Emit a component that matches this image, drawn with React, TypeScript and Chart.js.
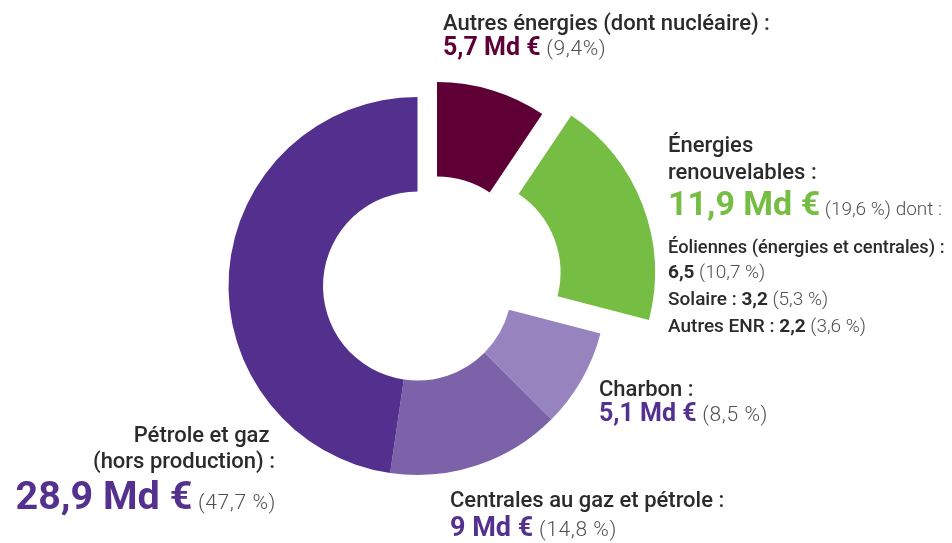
import React, { useEffect, useRef } from 'react';
import { Chart, registerables } from 'chart.js';

Chart.register(...registerables);

// ---- data ----
const categories = [
  'Autres énergies (dont nucléaire)',
  'Énergies renouvelables',
  'Charbon',
  'Centrales au gaz et pétrole',
  'Pétrole et gaz (hors production)',
];
const amounts = [5.7, 11.9, 5.1, 9, 28.9]; // Md €
const shares = [9.4, 19.6, 8.5, 14.8, 47.7]; // %
const renewableParts = ['Éoliennes (énergies et centrales)', 'Solaire', 'Autres ENR'];
const renewableAmounts = [6.5, 3.2, 2.2];
const renewableShares = [10.7, 5.3, 3.6];

// ---- style ----
const sliceColors = ['#5e0035', '#76bd43', '#9784be', '#7b62a9', '#53308e'];
const explode: ([number, number] | null)[] = [[19.5, -15], [48.5, -13.6], null, null, null];
const FONT = 'Roboto, "Noto Sans", sans-serif';
const DARK = '#2b2b2b';
const GREY = '#505050';
const PURPLE = '#55318f';

const fr = (n: number) => String(n).replace('.', ',');
const pct = (n: number, sep = ' ') => ` (${fr(n)}${sep}%)`;

const explodePlugin = {
  id: 'explodeSlices',
  afterUpdate(chart: any) {
    const meta = chart.getDatasetMeta(0);
    meta.data.forEach((arc: any, i: number) => {
      const s = explode[i];
      if (s) {
        arc.x += s[0];
        arc.y += s[1];
      }
    });
  },
};

const T = (p: any) => (
  <text
    x={p.x}
    y={p.y}
    textAnchor={p.anchor || 'start'}
    fontFamily={FONT}
    style={{ whiteSpace: 'pre' }}
  >
    {p.children}
  </text>
);

const S = (p: any) => (
  <tspan
    fontSize={p.size}
    fontWeight={p.weight}
    fill={p.color}
    style={p.ls ? { letterSpacing: p.ls + 'px' } : undefined}
  >
    {p.children}
  </tspan>
);

export default function App() {
  const ref = useRef<HTMLCanvasElement>(null);

  useEffect(() => {
    if (!ref.current) return;
    const chart = new Chart(ref.current, {
      type: 'doughnut',
      data: {
        labels: categories,
        datasets: [
          {
            data: amounts,
            backgroundColor: sliceColors,
            borderWidth: 0,
          },
        ],
      },
      options: {
        responsive: false,
        animation: false,
        radius: 189,
        cutout: '50%',
        layout: { padding: { left: 0, right: 117, top: 29, bottom: 0 } },
        plugins: { legend: { display: false }, tooltip: { enabled: false } },
        events: [],
      },
      plugins: [explodePlugin],
    });
    return () => chart.destroy();
  }, []);

  return (
    <div style={{ position: 'fixed', left: 0, top: 0, width: 952, height: 543, background: '#fff' }}>
      <canvas ref={ref} width={952} height={543} style={{ position: 'absolute', left: 0, top: 0 }} />
      <svg width={952} height={543} style={{ position: 'absolute', left: 0, top: 0 }}>
        {/* Autres énergies */}
        <T x={443} y={30}>
          <S size={22} weight={500} color={DARK}>{categories[0] + ' :'}</S>
        </T>
        <T x={443} y={55}>
          <S size={25} weight={700} color={sliceColors[0]}>{fr(amounts[0]) + ' Md €'}</S>
          <S size={21} weight={300} color={GREY} ls={0.6}>{pct(shares[0], '')}</S>
        </T>

        {/* Énergies renouvelables */}
        <T x={668} y={152}>
          <S size={22} weight={500} color={DARK}>Énergies</S>
        </T>
        <T x={668} y={179}>
          <S size={22} weight={500} color={DARK}>renouvelables :</S>
        </T>
        <T x={668} y={215}>
          <S size={34} weight={700} color={sliceColors[1]}>{fr(amounts[1]) + ' Md €'}</S>
          <S size={19} weight={300} color={GREY}>{pct(shares[1]) + ' dont :'}</S>
        </T>
        <T x={668} y={253}>
          <S size={18.3} weight={500} color={DARK}>{renewableParts[0] + ' :'}</S>
        </T>
        <T x={668} y={278}>
          <S size={19} weight={700} color={DARK}>{fr(renewableAmounts[0])}</S>
          <S size={19} weight={300} color={GREY}>{pct(renewableShares[0])}</S>
        </T>
        <T x={668} y={305}>
          <S size={19} weight={500} color={DARK}>{renewableParts[1] + ' : '}</S>
          <S size={19} weight={700} color={DARK}>{fr(renewableAmounts[1])}</S>
          <S size={19} weight={300} color={GREY}>{pct(renewableShares[1])}</S>
        </T>
        <T x={668} y={332}>
          <S size={19} weight={500} color={DARK}>{renewableParts[2] + ' : '}</S>
          <S size={19} weight={700} color={DARK}>{fr(renewableAmounts[2])}</S>
          <S size={19} weight={300} color={GREY}>{pct(renewableShares[2])}</S>
        </T>

        {/* Charbon */}
        <T x={599} y={396}>
          <S size={22} weight={500} color={DARK}>{categories[2] + ' :'}</S>
        </T>
        <T x={599} y={421}>
          <S size={25} weight={700} color={PURPLE}>{fr(amounts[2]) + ' Md €'}</S>
          <S size={21} weight={300} color={GREY} ls={0.6}>{pct(shares[2])}</S>
        </T>

        {/* Centrales */}
        <T x={450} y={507}>
          <S size={22} weight={500} color={DARK}>{categories[3] + ' :'}</S>
        </T>
        <T x={450} y={535.5}>
          <S size={27} weight={700} color={PURPLE}>{fr(amounts[3]) + ' Md €'}</S>
          <S size={21} weight={300} color={GREY} ls={0.6}>{pct(shares[3])}</S>
        </T>

        {/* Pétrole et gaz */}
        <T x={275} y={441.5} anchor="end">
          <S size={22} weight={500} color={DARK}>{'Pétrole et gaz '}</S>
        </T>
        <T x={275} y={468} anchor="end">
          <S size={22} weight={500} color={DARK}>(hors production) :</S>
        </T>
        <T x={276} y={508.5} anchor="end">
          <S size={39.5} weight={700} color={PURPLE}>{fr(amounts[4]) + ' Md €'}</S>
          <S size={21} weight={300} color={GREY} ls={0.6}>{pct(shares[4])}</S>
        </T>
      </svg>
    </div>
  );
}
